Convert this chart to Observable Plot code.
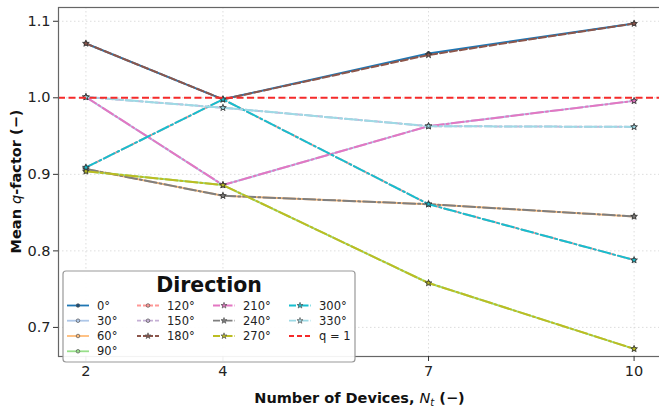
<!DOCTYPE html>
<html>
<head>
<meta charset="utf-8">
<script src="https://cdn.jsdelivr.net/npm/d3@7"></script>
<script src="https://cdn.jsdelivr.net/npm/@observablehq/plot@0.6"></script>
<style>
  html, body { margin: 0; padding: 0; background: #fff; overflow: hidden; }
  #chart svg { display: block; }
</style>
</head>
<body>
<div id="chart"></div>
<script>
// Number of devices in the array
const devices = [2, 4, 7, 10];

// Wave directions
const directions = ["0°", "30°", "60°", "90°", "120°", "150°", "180°", "210°", "240°", "270°", "300°", "330°"];

// Mean q-factor per direction, one value per device count
const q0   = [1.071, 0.998, 1.058, 1.097];
const q30  = [1.001, 0.886, 0.963, 0.996];
const q60  = [0.907, 0.872, 0.861, 0.845];
const q90  = [0.904, 0.886, 0.758, 0.672];
const q120 = [0.909, 0.998, 0.861, 0.788];
const q150 = [1.001, 0.987, 0.963, 0.962];
const q180 = [1.071, 0.998, 1.056, 1.097];
const q210 = [1.001, 0.886, 0.963, 0.996];
const q240 = [0.907, 0.872, 0.861, 0.845];
const q270 = [0.904, 0.886, 0.758, 0.672];
const q300 = [0.909, 0.998, 0.861, 0.788];
const q330 = [1.001, 0.987, 0.963, 0.962];

// Reference level q = 1
const qRef = 1.0;

// Axis ticks
const xTicks = [2, 4, 7, 10];
const yTicks = [0.7, 0.8, 0.9, 1.0, 1.1];

const qValues = [q0, q30, q60, q90, q120, q150, q180, q210, q240, q270, q300, q330];

// Line styling per direction
const palette = ["#1f77b4", "#aec7e8", "#ffbb78", "#98df8a", "#ff9896", "#c5b0d5",
                 "#8c564b", "#e377c2", "#7f7f7f", "#bcbd22", "#17becf", "#9edae5"];
const dashed = "7,3";
const dashdot = "12,3,2,3";
const dashes = [null, null, null, null, dashed, dashed, dashed, dashdot, dashdot, dashdot, dashdot, dashdot];
const symbols = ["circle", "circle", "circle", "circle", "circle", "circle",
                 "star", "star", "star", "star", "star", "star"];

const series = directions.map((dir, k) => ({
  dir,
  color: palette[k],
  dash: dashes[k],
  symbol: symbols[k],
  filled: k === 0,
  rows: devices.map((n, i) => ({n, q: qValues[k][i]}))
}));

const W = 659, H = 412;
const mL = 58, mT = 7, mB = 56, mR = -2;

const marks = [
  Plot.gridX(xTicks, {stroke: "#d4d4d4", strokeOpacity: 1, strokeDasharray: "1.5,2.5", strokeWidth: 0.8}),
  Plot.gridY(yTicks, {stroke: "#d4d4d4", strokeOpacity: 1, strokeDasharray: "1.5,2.5", strokeWidth: 0.8})
];

for (const s of series) {
  marks.push(Plot.line(s.rows, {
    x: "n", y: "q", stroke: s.color, strokeWidth: 2,
    strokeDasharray: s.dash || undefined
  }));
  marks.push(Plot.dot(s.rows, {
    x: "n", y: "q", symbol: s.symbol,
    r: s.symbol === "star" ? 2.1 : 1.9,
    fill: s.filled ? "#1a4f7a" : s.color,
    stroke: "#333", strokeWidth: 0.8
  }));
}

marks.push(
  Plot.ruleY([qRef], {stroke: "#f52a2a", strokeWidth: 2, strokeDasharray: "7,3.5"}),
  Plot.frame({stroke: "#666", strokeWidth: 1.2}),
  Plot.axisX(xTicks, {tickSize: 5, tickPadding: 4, fontSize: 14.5, label: null, stroke: "#333", fill: "#222"}),
  Plot.axisY(yTicks, {tickSize: 5, tickPadding: 3, fontSize: 14.5, label: null, stroke: "#333", fill: "#222",
                      tickFormat: d3.format(".1f")})
);

const chart = Plot.plot({
  width: W, height: H,
  marginLeft: mL, marginTop: mT, marginBottom: mB, marginRight: mR,
  style: {fontFamily: "DejaVu Sans", fontSize: "14px", background: "#fff"},
  x: {domain: [1.6, 10.4]},
  y: {domain: [0.662, 1.118]},
  marks
});

document.getElementById("chart").appendChild(chart);

const svg = d3.select(chart);
const plotCx = (mL + (W - mR)) / 2;
const plotCy = (mT + (H - mB)) / 2;

// Axis titles
const yl = svg.append("text")
  .attr("transform", `translate(17,${plotCy}) rotate(-90)`)
  .attr("text-anchor", "middle")
  .attr("dominant-baseline", "middle")
  .style("font-family", "DejaVu Sans")
  .style("font-size", "14.5px")
  .style("font-weight", "bold")
  .attr("fill", "#111");
yl.append("tspan").text("Mean ");
yl.append("tspan").text("q").style("font-style", "italic").style("font-weight", "normal");
yl.append("tspan").text("-factor (−)");

const xl = svg.append("text")
  .attr("x", plotCx).attr("y", 403)
  .attr("text-anchor", "middle")
  .style("font-family", "DejaVu Sans")
  .style("font-size", "14.5px")
  .style("font-weight", "bold")
  .attr("fill", "#111");
xl.append("tspan").text("Number of Devices, ");
xl.append("tspan").text("N").style("font-style", "italic").style("font-weight", "normal");
xl.append("tspan").text("t").style("font-style", "italic").style("font-weight", "normal")
  .style("font-size", "10px").attr("dy", 3);
xl.append("tspan").text(" (−)").attr("dy", -3);

// Legend
const lg = svg.append("g").attr("text-anchor", "start");
const lx0 = 63, ly0 = 271, lw = 292, lh = 91;
lg.append("rect")
  .attr("x", lx0).attr("y", ly0).attr("width", lw).attr("height", lh)
  .attr("rx", 3).attr("fill", "#fff").attr("fill-opacity", 0.92)
  .attr("stroke", "#999").attr("stroke-width", 1.2);
lg.append("text")
  .attr("x", lx0 + lw / 2).attr("y", 292)
  .attr("text-anchor", "middle")
  .style("font-family", "DejaVu Sans").style("font-size", "20.5px").style("font-weight", "bold")
  .attr("fill", "#111")
  .text("Direction");

const colX = [67, 137, 213, 289];
const rowY = [305.5, 320.7, 336, 351.3];
const entries = series.map(s => ({label: s.dir, color: s.color, dash: s.dash, symbol: s.symbol, filled: s.filled}));
entries.push({label: "q = 1", color: "#f52a2a", dash: "5,3", symbol: null});
const slots = [[0,0],[0,1],[0,2],[0,3],[1,0],[1,1],[1,2],[2,0],[2,1],[2,2],[3,0],[3,1],[3,2]];

entries.forEach((e, i) => {
  const [c, r] = slots[i];
  const x = colX[c], y = rowY[r];
  lg.append("line")
    .attr("x1", x).attr("x2", x + 22).attr("y1", y).attr("y2", y)
    .attr("stroke", e.color).attr("stroke-width", e.symbol ? 1.8 : 2)
    .attr("stroke-dasharray", e.dash ? (e.symbol ? (e.dash === dashed ? "4,2" : "7,2,1.5,2") : e.dash) : null);
  if (e.symbol) {
    const rr = e.symbol === "star" ? 1.9 : 1.8;
    const sym = e.symbol === "star" ? d3.symbolStar : d3.symbolCircle;
    lg.append("path")
      .attr("transform", `translate(${x + 11},${y})`)
      .attr("d", d3.symbol(sym, Math.PI * rr * rr)())
      .attr("fill", e.filled ? "#1a4f7a" : e.color)
      .attr("stroke", "#555").attr("stroke-width", 0.7);
  }
  lg.append("text")
    .attr("x", x + 30).attr("y", y)
    .attr("text-anchor", "start")
    .attr("dominant-baseline", "central")
    .style("font-family", "DejaVu Sans").style("font-size", "11.5px")
    .attr("fill", "#222")
    .text(e.label);
});
</script>
</body>
</html>
